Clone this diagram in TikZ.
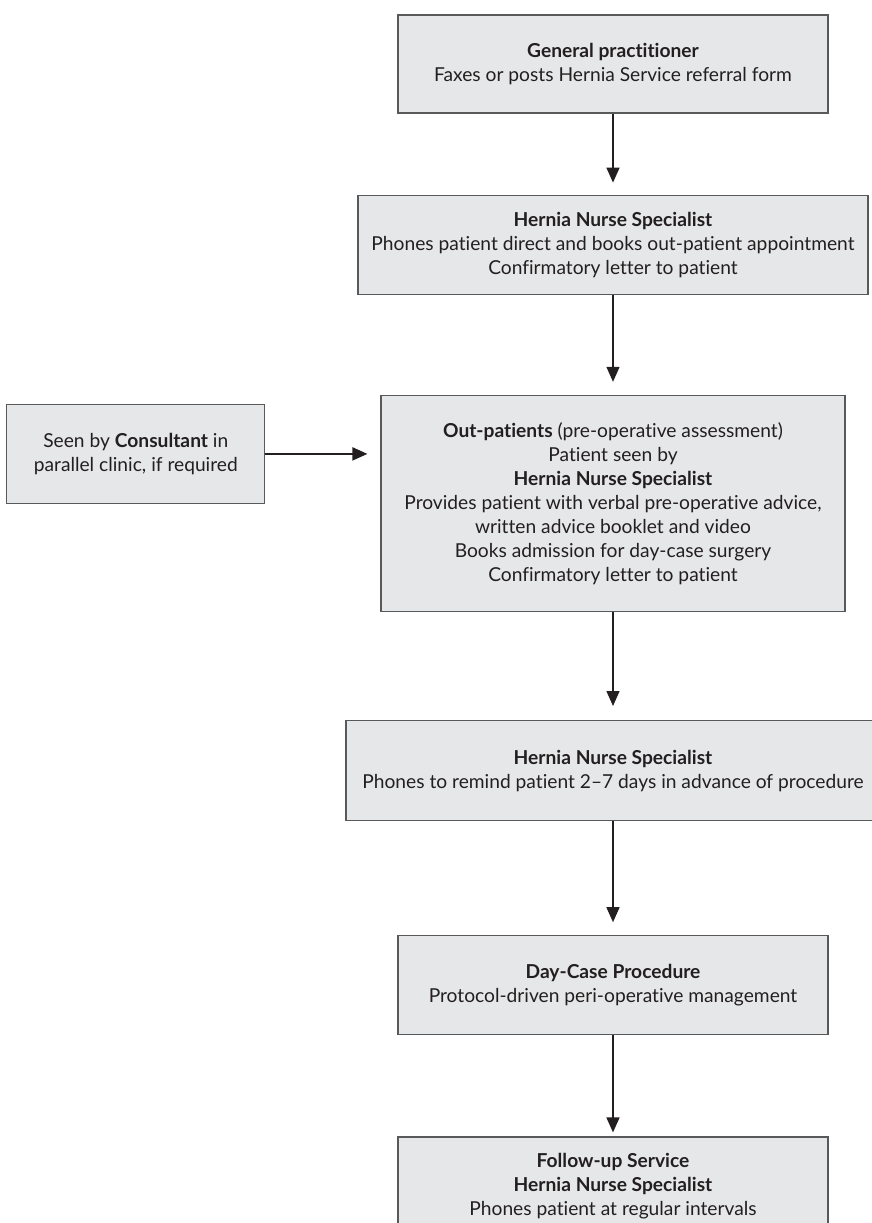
\documentclass[tikz,border=0pt]{standalone}
\usepackage{fontspec}
\setmainfont{Lato}[Ligatures={NoCommon}]
\usetikzlibrary{positioning,arrows.meta}
\definecolor{boxfill}{HTML}{E6E7E8}
\definecolor{boxline}{HTML}{58595B}
\definecolor{ink}{HTML}{231F20}
\begin{document}
\begin{tikzpicture}[x=0.5pt, y=-0.5pt]
	\tikzstyle{stage} = [ draw=boxline, fill=boxfill, rectangle, line width=0.6pt, align=center, text=ink, inner sep=0pt, font={\fontsize{9.6}{12}\selectfont} ];
	\tikzstyle{point} = [ -{Triangle[width=6.5pt, length=7.5pt]}, draw=ink, fill=ink, line width=0.7pt ];

	\useasboundingbox (0,0) rectangle (872,1223);

	\node[stage, minimum width=215pt, minimum height=49pt] (gp) at (613,64) {\textbf{General practitioner}\\Faxes or posts Hernia Service referral form};
	\node[stage, minimum width=255pt, minimum height=49.5pt, below=40.5pt of gp] (hns) {\textbf{Hernia Nurse Specialist}\\Phones patient direct and books out-patient appointment\\Confirmatory letter to patient};
	\node[stage, minimum width=232pt, minimum height=108pt, below=50pt of hns] (opd) {\textbf{Out-patients} (pre-operative assessment)\\Patient seen by\\\textbf{Hernia Nurse Specialist}\\Provides patient with verbal pre-operative advice,\\written advice booklet and video\\Books admission for day-case surgery\\Confirmatory letter to patient};
	\node[stage, minimum width=129pt, minimum height=49.5pt, below left=4.5pt and 57.5pt of opd.north west] (cons) {Seen by \textbf{Consultant} in\\parallel clinic, if required};
	\node[stage, minimum width=267pt, minimum height=50pt, below=54pt of opd] (remind) {\textbf{Hernia Nurse Specialist}\\Phones to remind patient 2–7 days in advance of procedure};
	\node[stage, minimum width=215pt, minimum height=49.5pt, below=57pt of remind] (dcp) {\textbf{Day-Case Procedure}\\Protocol-driven peri-operative management};
	\node[stage, minimum width=215pt, minimum height=49pt, below=50.5pt of dcp] (fus) {\textbf{Follow-up Service}\\\textbf{Hernia Nurse Specialist}\\Phones patient at regular intervals};

	\foreach \a/\b/\g in {gp/hns/6pt, hns/opd/6.5pt, opd/remind/7pt, remind/dcp/6.5pt, dcp/fus/2pt}
		\draw[point, shorten >=\g] (\a) -- (\b);
	\draw[point, line width=1pt, shorten >=6.5pt] (cons.east) -- (cons.east -| opd.west);
\end{tikzpicture}
\end{document}
